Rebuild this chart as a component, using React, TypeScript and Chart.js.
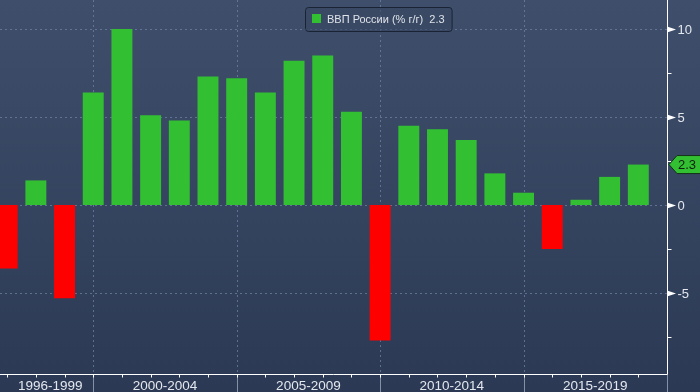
import React, { useEffect, useRef } from 'react';
import { Chart, registerables } from 'chart.js';

Chart.register(...registerables);

const years = [1996, 1997, 1998, 1999, 2000, 2001, 2002, 2003, 2004, 2005, 2006, 2007, 2008, 2009, 2010, 2011, 2012, 2013, 2014, 2015, 2016, 2017, 2018];
const gdpGrowth = [-3.6, 1.4, -5.3, 6.4, 10.0, 5.1, 4.8, 7.3, 7.2, 6.4, 8.2, 8.5, 5.3, -7.7, 4.5, 4.3, 3.7, 1.8, 0.7, -2.5, 0.3, 1.6, 2.3];
const yTicks = [10, 5, 0, -5];
const yMinorTicks = [7.5, 2.5, -2.5, -7.5];
const groupLabels = ['1996-1999', '2000-2004', '2005-2009', '2010-2014', '2015-2019'];
const groupStarts = [1995, 1999, 2004, 2009, 2014];
const groupEnds = [1999, 2004, 2009, 2014, 2019];
const legendLabel = 'ВВП России (% г/г)';
const xMin = 1995.75;
const xMax = 2019;
const yMin = -9.6;
const yMax = 11.65;

const GREEN = '#32bf32';
const RED = '#ff0000';
const FONT = '"Liberation Sans", Arial, sans-serif';

const decorPlugin = {
  id: 'decor',
  beforeDraw(chart: any) {
    const { ctx, width, height } = chart;
    ctx.save();
    const g = ctx.createLinearGradient(0, 0, 0, height);
    g.addColorStop(0, '#3f4f6b');
    g.addColorStop(1, '#2b3954');
    ctx.fillStyle = g;
    ctx.fillRect(0, 0, width, height);
    ctx.restore();
  },
  beforeDatasetsDraw(chart: any) {
    const { ctx, chartArea } = chart;
    const xs = chart.scales.x;
    const ys = chart.scales.y;
    ctx.save();
    ctx.strokeStyle = 'rgba(110,130,162,0.75)';
    ctx.lineWidth = 1;
    ctx.setLineDash([2, 3]);
    yTicks.forEach((v) => {
      const y = Math.round(ys.getPixelForValue(v)) + 0.5;
      ctx.beginPath();
      ctx.moveTo(chartArea.left, y);
      ctx.lineTo(chartArea.right, y);
      ctx.stroke();
    });
    groupEnds.forEach((v) => {
      const x = Math.round(xs.getPixelForValue(v)) + 0.5;
      if (x >= chartArea.right - 2) return;
      ctx.beginPath();
      ctx.moveTo(x, chartArea.top);
      ctx.lineTo(x, chartArea.bottom);
      ctx.stroke();
    });
    ctx.restore();
  },
  afterDraw(chart: any) {
    const { ctx, chartArea, width, height } = chart;
    const xs = chart.scales.x;
    const ys = chart.scales.y;
    const bottom = Math.round(chartArea.bottom) + 0.5;
    const right = Math.round(chartArea.right) + 0.5;
    ctx.save();
    ctx.setLineDash([]);
    ctx.lineWidth = 1;

    // group separators below the axis
    ctx.strokeStyle = '#8590a6';
    groupEnds.forEach((v) => {
      const x = Math.round(xs.getPixelForValue(v)) + 0.5;
      ctx.beginPath();
      ctx.moveTo(x, bottom);
      ctx.lineTo(x, height);
      ctx.stroke();
    });

    // x axis line
    ctx.strokeStyle = '#ffffff';
    ctx.beginPath();
    ctx.moveTo(chartArea.left, bottom);
    ctx.lineTo(right, bottom);
    ctx.stroke();
    // year ticks
    years.forEach((v) => {
      const x = Math.round(xs.getPixelForValue(v)) + 0.5;
      ctx.beginPath();
      ctx.moveTo(x, bottom);
      ctx.lineTo(x, bottom + 3);
      ctx.stroke();
    });

    // group labels
    ctx.font = `13.5px ${FONT}`;
    ctx.fillStyle = '#e4e7ee';
    ctx.textAlign = 'center';
    ctx.textBaseline = 'alphabetic';
    groupLabels.forEach((lab, i) => {
      const a = Math.max(chartArea.left, xs.getPixelForValue(groupStarts[i]));
      const b = Math.min(chartArea.right, xs.getPixelForValue(groupEnds[i]));
      let cx = (a + b) / 2;
      const w = ctx.measureText(lab).width;
      if (cx - w / 2 < chartArea.left + 18) cx = chartArea.left + 18 + w / 2;
      ctx.fillText(lab, cx, height - 2);
    });

    // right axis line
    ctx.strokeStyle = '#ffffff';
    ctx.beginPath();
    ctx.moveTo(right, chartArea.top);
    ctx.lineTo(right, bottom);
    ctx.stroke();

    // minor ticks
    yMinorTicks.forEach((v) => {
      const y = Math.round(ys.getPixelForValue(v)) + 0.5;
      ctx.beginPath();
      ctx.moveTo(right, y);
      ctx.lineTo(right + 4, y);
      ctx.stroke();
    });

    // major ticks with triangles and labels
    ctx.font = `13px ${FONT}`;
    ctx.textAlign = 'left';
    ctx.textBaseline = 'middle';
    yTicks.forEach((v) => {
      const y = Math.round(ys.getPixelForValue(v)) + 0.5;
      ctx.fillStyle = '#ffffff';
      ctx.beginPath();
      ctx.moveTo(right - 0.5, y - 3);
      ctx.lineTo(right + 8.5, y);
      ctx.lineTo(right - 0.5, y + 3);
      ctx.closePath();
      ctx.fill();
      ctx.fillStyle = '#e4e7ee';
      ctx.fillText(String(v), right + 10, y + 1);
    });

    // last value tag
    const last = gdpGrowth[gdpGrowth.length - 1];
    const ty = ys.getPixelForValue(last);
    const tx = right + 1.5;
    const th = 9;
    ctx.beginPath();
    ctx.moveTo(tx, ty);
    ctx.lineTo(tx + 8, ty - th);
    ctx.lineTo(width + 2, ty - th);
    ctx.lineTo(width + 2, ty + th);
    ctx.lineTo(tx + 8, ty + th);
    ctx.closePath();
    ctx.fillStyle = GREEN;
    ctx.fill();
    ctx.strokeStyle = '#16331a';
    ctx.stroke();
    ctx.fillStyle = '#10200f';
    ctx.font = `13px ${FONT}`;
    ctx.fillText(String(last), tx + 9, ty + 1);

    // legend
    ctx.font = `11px ${FONT}`;
    const legText = `${legendLabel}  ${last}`;
    const tw = ctx.measureText(legText).width;
    const bx = 305.5;
    const by = 7.5;
    const bw = 22 + tw + 7;
    const bh = 24;
    const r = 3;
    ctx.beginPath();
    ctx.moveTo(bx + r, by);
    ctx.lineTo(bx + bw - r, by);
    ctx.arcTo(bx + bw, by, bx + bw, by + r, r);
    ctx.lineTo(bx + bw, by + bh - r);
    ctx.arcTo(bx + bw, by + bh, bx + bw - r, by + bh, r);
    ctx.lineTo(bx + r, by + bh);
    ctx.arcTo(bx, by + bh, bx, by + bh - r, r);
    ctx.lineTo(bx, by + r);
    ctx.arcTo(bx, by, bx + r, by, r);
    ctx.closePath();
    ctx.fillStyle = 'rgba(55,70,96,0.6)';
    ctx.fill();
    ctx.strokeStyle = '#1a2334';
    ctx.stroke();
    ctx.fillStyle = GREEN;
    ctx.fillRect(bx + 6.5, by + 6.5, 9, 9);
    ctx.fillStyle = '#dfe3ea';
    ctx.textAlign = 'left';
    ctx.textBaseline = 'middle';
    ctx.fillText(legText, bx + 21.5, by + bh / 2 + 0.5);

    ctx.restore();
  },
};

export default function App() {
  const ref = useRef<HTMLCanvasElement | null>(null);
  useEffect(() => {
    if (!ref.current) return;
    const data = years.map((yr, i) => ({ x: yr, y: gdpGrowth[i] }));
    const chart = new Chart(ref.current, {
      type: 'bar',
      data: {
        datasets: [
          {
            label: legendLabel,
            data: data as any,
            backgroundColor: gdpGrowth.map((v) => (v < 0 ? RED : GREEN)),
            borderWidth: 0,
            barPercentage: 0.73,
            categoryPercentage: 1,
          },
        ],
      },
      options: {
        responsive: false,
        animation: false,
        devicePixelRatio: 1,
        layout: { padding: { left: 0, top: 0, right: 33, bottom: 18 } },
        plugins: { legend: { display: false }, tooltip: { enabled: false } },
        scales: {
          x: { type: 'linear', min: xMin, max: xMax, display: false, offset: false },
          y: { type: 'linear', min: yMin, max: yMax, display: false },
        },
      },
      plugins: [decorPlugin],
    });
    return () => chart.destroy();
  }, []);
  return (
    <div style={{ position: 'fixed', left: 0, top: 0, width: 700, height: 392 }}>
      <canvas ref={ref} width={700} height={392} style={{ display: 'block' }} />
    </div>
  );
}
